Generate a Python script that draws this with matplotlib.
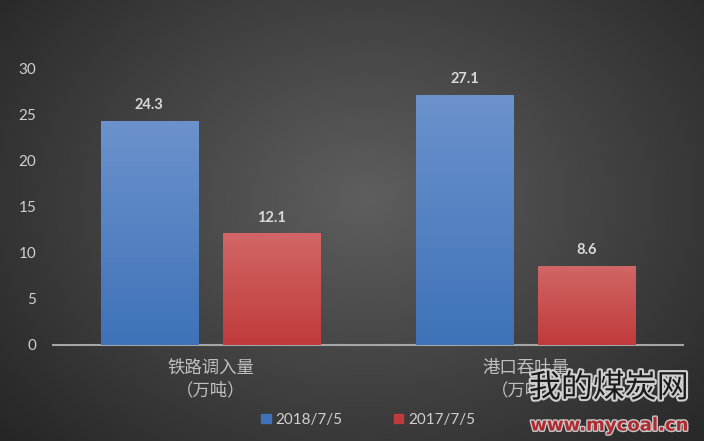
import numpy as np
import matplotlib.pyplot as plt
import matplotlib.patheffects as pe
from matplotlib.patches import Patch

plt.rcParams['font.family'] = ['Lato', 'Noto Sans CJK SC', 'DejaVu Sans']

categorias = ['铁路调入量\n（万吨）', '港口吞吐量\n（万吨）']
series = ['2018/7/5', '2017/7/5']
valores_2018 = [24.3, 27.1]
valores_2017 = [12.1, 8.6]

cor_azul = ('#6b92cc', '#3f72b8')
cor_verm = ('#d26666', '#c03b3b')

fig = plt.figure(figsize=(7.04, 4.41), dpi=100)

# fundo com gradiente radial
bg = fig.add_axes([0, 0, 1, 1], zorder=-10)
yy, xx = np.mgrid[0:1:300j, 0:1:480j]
r = np.sqrt(((xx - 0.52) / 0.62) ** 2 + ((yy - 0.55) / 0.75) ** 2)
g = np.clip(0.37 - 0.20 * r, 0.14, 0.37)
bg.imshow(np.dstack([g, g, g]), extent=[0, 1, 0, 1], aspect='auto', origin='lower')
bg.axis('off')

ax = fig.add_axes([0.0753, 0.2177, 0.895, 0.6281])
ax.patch.set_alpha(0)

x = np.arange(len(categorias))
largura = 0.308
desloc = 0.194

def barras_gradiente(pos, vals, cores):
    barras = ax.bar(pos, vals, largura, color=cores[1], zorder=2)
    grad = np.linspace(0, 1, 100).reshape(-1, 1)
    c0 = np.array(plt.matplotlib.colors.to_rgb(cores[0]))
    c1 = np.array(plt.matplotlib.colors.to_rgb(cores[1]))
    img = c1 + (c0 - c1) * grad[:, :, None]
    for b in barras:
        x0, w, h = b.get_x(), b.get_width(), b.get_height()
        im = ax.imshow(img, extent=[x0, x0 + w, 0, h], origin='lower',
                       aspect='auto', zorder=3)
        im.set_clip_path(b)
    for b, v in zip(barras, vals):
        ax.text(b.get_x() + b.get_width() / 2, v + 0.9, f'{v}', ha='center',
                va='bottom', fontsize=10.5, fontweight='bold', color='#d9d9d9')
    return barras

barras_gradiente(x - desloc, valores_2018, cor_azul)
barras_gradiente(x + desloc, valores_2017, cor_verm)

ax.set_xlim(-0.5, 1.5)
ax.set_ylim(0, 30)
ax.set_yticks(range(0, 31, 5))
ax.tick_params(axis='y', length=0, colors='#d0d0d0', labelsize=11, pad=12)
ax.tick_params(axis='x', length=0, pad=10)
ax.set_xticks(x)
ax.set_xticklabels(categorias, fontsize=12.5, color='#bfbfbf',
                   family=['Noto Sans CJK SC'], linespacing=1.35)
for s in ['top', 'right', 'left']:
    ax.spines[s].set_visible(False)
ax.spines['bottom'].set_color('#a6a6a6')
ax.spines['bottom'].set_linewidth(1.5)

handles = [Patch(color=cor_azul[1], label=series[0]),
           Patch(color=cor_verm[1], label=series[1])]
fig.legend(handles=handles, loc='center', bbox_to_anchor=(0.523, 0.048),
           ncol=2, frameon=False, fontsize=11, labelcolor='#d0d0d0',
           handlelength=0.6, handleheight=0.6, handletextpad=0.3,
           columnspacing=3.4)

# marca d'agua
fig.text(0.865, 0.12, '我的煤炭网', ha='center', va='center', fontsize=23,
         color='#1a1a1a', family=['Noto Sans CJK SC'],
         path_effects=[pe.withStroke(linewidth=3, foreground='#cfcfcf')])
fig.text(0.865, 0.035, 'www.mycoal.cn', ha='center', va='center', fontsize=13,
         fontweight='bold', color='#b02a30', family=['DejaVu Sans'],
         path_effects=[pe.withStroke(linewidth=2, foreground='#c8c8c8')])

fig.savefig('out.png', dpi=100)
